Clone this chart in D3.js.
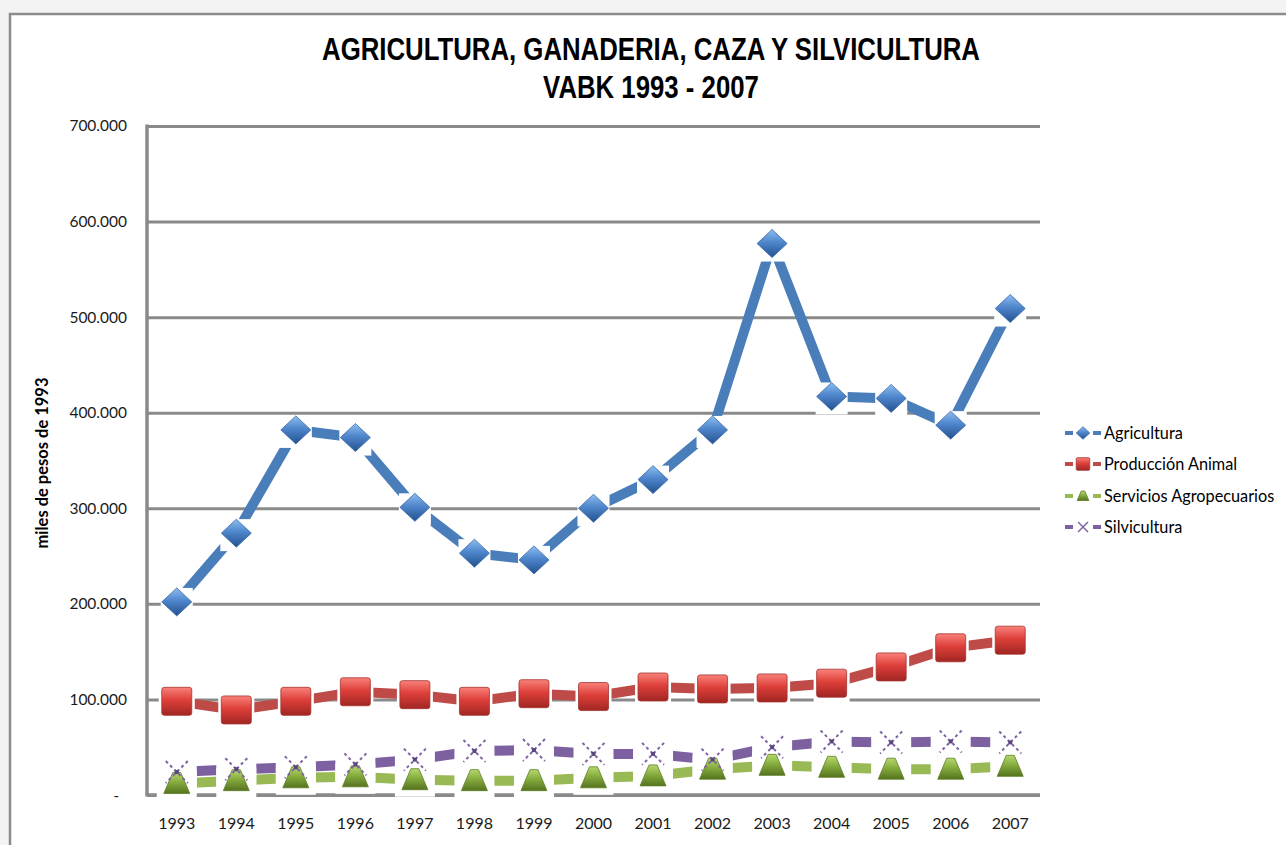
<!DOCTYPE html>
<html><head><meta charset="utf-8">
<script src="https://cdn.jsdelivr.net/npm/d3@7/dist/d3.min.js"></script>
<style>
html,body{margin:0;padding:0;background:#f3f3f3;}
svg{display:block;}
</style></head>
<body>
<svg id="chart" width="1286" height="845"></svg>
<script>
// ---------- data ----------
const years = ["1993","1994","1995","1996","1997","1998","1999","2000","2001","2002","2003","2004","2005","2006","2007"];
const agricultura  = [202000,274000,382000,374000,301000,253000,246000,300000,330000,382000,577000,417000,415000,387000,509000];
const produccion   = [98000,89000,98000,108000,105000,98000,106000,103000,113000,111000,112000,117000,134000,154000,162000];
const servicios    = [12000,15000,18000,19000,16000,15000,15000,18000,20000,27000,31000,29000,27000,27000,30000];
const silvicultura = [24000,27000,29000,32000,37000,46000,47000,43000,43000,37000,50000,56000,55000,56000,55000];
const seriesNames  = ["Agricultura","Producción Animal","Servicios Agropecuarios","Silvicultura"];
const yTicks = [0,100000,200000,300000,400000,500000,600000,700000];
const titleLines = ["AGRICULTURA, GANADERIA, CAZA Y SILVICULTURA","VABK 1993 - 2007"];
const yTitle = "miles de pesos de 1993";

(function(){
const svg = d3.select("#chart");
const font = "Lato, 'Open Sans', sans-serif";
const pL = 147, pR = 1040, pT = 126, pB = 795;

// chart area frame
svg.append("rect").attr("x",10).attr("y",14).attr("width",1290).attr("height",850)
  .attr("fill","#ffffff").attr("stroke","#8c8c8c").attr("stroke-width",2.5);

const x = d3.scaleBand().domain(years).range([pL,pR]).paddingInner(0).paddingOuter(0);
const y = d3.scaleLinear().domain([0,700000]).range([pB,pT]);
const cx = d => x(d) + x.bandwidth()/2;

const loc = d3.formatLocale({decimal:",",thousands:".",grouping:[3],currency:["$",""]});
const fmt = loc.format(",");

const defs = svg.append("defs");
function grad(id, c1, c2, c3){
  const g = defs.append("linearGradient").attr("id",id).attr("x1",0).attr("y1",0).attr("x2",0).attr("y2",1);
  g.append("stop").attr("offset","0%").attr("stop-color",c1);
  g.append("stop").attr("offset","45%").attr("stop-color",c2);
  g.append("stop").attr("offset","100%").attr("stop-color",c3);
}
grad("gBlue","#8dbdf0","#4f86cc","#23528f");
grad("gRed","#f8827a","#de3f3a","#a02622");
grad("gGreen","#b6d86f","#86ad3e","#55731f");

// gridlines + y labels
const yAxis = d3.axisLeft(y).tickValues(yTicks).tickSize(-(pR-pL)).tickFormat(v => v===0 ? "" : fmt(v));
const gy = svg.append("g").attr("transform",`translate(${pL},0)`).call(yAxis);
gy.select(".domain").remove();
gy.selectAll(".tick line").attr("stroke","#8a8a8a").attr("stroke-width",3);
gy.selectAll(".tick text").attr("x",-20).attr("font-family",font).attr("font-size",15.5).attr("fill","#1a1a1a");
svg.append("text").attr("x",119).attr("y",y(0)+6).attr("text-anchor","end")
  .attr("font-family",font).attr("font-size",15).attr("fill","#1a1a1a").text("-");

// axes lines
svg.append("line").attr("x1",pL).attr("x2",pL).attr("y1",pT-1.5).attr("y2",pB+1.5)
  .attr("stroke","#8a8a8a").attr("stroke-width",3.5);
svg.append("line").attr("x1",pL).attr("x2",pR).attr("y1",pB).attr("y2",pB)
  .attr("stroke","#8a8a8a").attr("stroke-width",3.5);

// x labels
const xAxis = d3.axisBottom(x).tickSize(0).tickPadding(0);
const gx = svg.append("g").attr("transform",`translate(0,${pB+26})`).call(xAxis);
gx.select(".domain").remove();
gx.selectAll(".tick text").attr("font-family",font).attr("font-size",16).attr("fill","#1a1a1a").attr("dy","0.5em");

const series = [
  {name:seriesNames[0], vals:agricultura, color:"#4a7ebb", shape:"diamond", box:[32,32]},
  {name:seriesNames[1], vals:produccion, color:"#be4b48", shape:"square", box:[36,34]},
  {name:seriesNames[2], vals:servicios, color:"#98b954", shape:"triangle", box:[40,30]},
  {name:seriesNames[3], vals:silvicultura, color:"#7d60a0", shape:"x", box:[40,30]}
];
const line = d3.line().x((d,i)=>cx(years[i])).y(d=>y(d));

const gLines = svg.append("g");
const gBoxes = svg.append("g");
const gMarks = svg.append("g");

series.forEach(s=>{
  gLines.append("path").datum(s.vals).attr("d",line).attr("fill","none")
    .attr("stroke",s.color).attr("stroke-width",10).attr("stroke-linejoin","miter");
  gBoxes.selectAll(null).data(s.vals).enter().append("rect")
    .attr("x",(d,i)=>cx(years[i])-s.box[0]/2).attr("y",d=>y(d)-s.box[1]/2+2)
    .attr("width",s.box[0]).attr("height",s.box[1]).attr("fill","#ffffff");
});

function drawMarker(g, shape, px, py, sc){
  if(shape==="diamond"){
    g.append("path").attr("d",`M${px},${py-14*sc}L${px+15*sc},${py}L${px},${py+14*sc}L${px-15*sc},${py}Z`)
      .attr("fill","url(#gBlue)").attr("stroke","#3a6aa8").attr("stroke-width",0.8);
  } else if(shape==="square"){
    g.append("rect").attr("x",px-15*sc).attr("y",py-14*sc).attr("width",30*sc).attr("height",28*sc)
      .attr("rx",2.5*sc).attr("fill","url(#gRed)").attr("stroke","#a33330").attr("stroke-width",0.8);
  } else if(shape==="triangle"){
    g.append("path").attr("d",`M${px-4*sc},${py-11*sc}L${px+4*sc},${py-11*sc}L${px+13*sc},${py+10*sc}L${px-13*sc},${py+10*sc}Z`)
      .attr("fill","url(#gGreen)").attr("stroke","#5d7d25").attr("stroke-width",0.8);
  } else {
    const r = 11*sc;
    g.append("path").attr("d",`M${px-r},${py-r}L${px+r},${py+r}M${px+r},${py-r}L${px-r},${py+r}`)
      .attr("stroke","#8064a2").attr("stroke-width",sc<1?1.5:2).attr("stroke-dasharray",sc<1?null:"3,3").attr("fill","none");
    if(sc>=1) g.append("rect").attr("x",px-2).attr("y",py-2).attr("width",4).attr("height",4).attr("fill","#5c4680");
  }
}
series.forEach(s=>{
  s.vals.forEach((v,i)=>drawMarker(gMarks, s.shape, cx(years[i]), y(v), 1));
});

// title (bold, horizontally condensed)
const tfont = "'Liberation Sans', Arial, sans-serif";
const tg1 = svg.append("g");
const t1 = tg1.append("text").attr("x",0).attr("y",0).attr("text-anchor","middle")
  .attr("font-family",tfont).attr("font-weight","bold")
  .attr("font-size",31).attr("fill","#000").text(titleLines[0]);
const sx = 658 / t1.node().getComputedTextLength();
tg1.attr("transform",`translate(651,60) scale(${sx},1)`);
svg.append("g").attr("transform",`translate(651,98) scale(${sx},1)`)
  .append("text").attr("x",0).attr("y",0).attr("text-anchor","middle")
  .attr("font-family",tfont).attr("font-weight","bold")
  .attr("font-size",31).attr("fill","#000").text(titleLines[1]);

// y title
svg.append("text").attr("transform",`translate(48,463) rotate(-90)`).attr("text-anchor","middle")
  .attr("font-family",font).attr("font-weight","bold").attr("font-size",16.5).attr("fill","#000").text(yTitle);

// legend
const legY = [433,464,496,527];
series.forEach((s,i)=>{
  const g = svg.append("g");
  const ly = legY[i];
  g.append("line").attr("x1",1065).attr("x2",1073).attr("y1",ly).attr("y2",ly).attr("stroke",s.color).attr("stroke-width",4);
  g.append("line").attr("x1",1093).attr("x2",1101).attr("y1",ly).attr("y2",ly).attr("stroke",s.color).attr("stroke-width",4);
  drawMarker(g, s.shape, 1083, ly, 0.45);
  g.append("text").attr("x",1104).attr("y",ly+5.5).attr("font-family",font).attr("font-size",16.3)
    .attr("fill","#000").text(s.name);
});
})();
</script>
</body></html>
